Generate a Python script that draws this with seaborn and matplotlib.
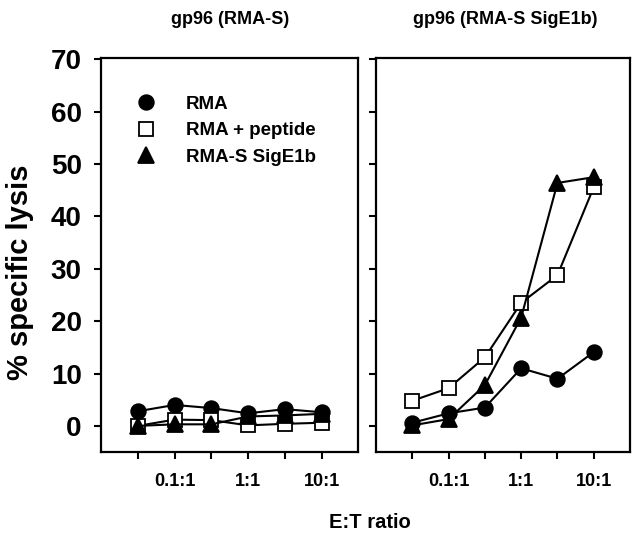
import seaborn as sns
import matplotlib.pyplot as plt
import pandas as pd
from matplotlib.lines import Line2D

sns.set_style("ticks")
plt.rcParams['font.family'] = ['Liberation Sans', 'DejaVu Sans']
plt.rcParams['font.weight'] = 'bold'
plt.rcParams['text.color'] = 'black'
plt.rcParams['axes.labelcolor'] = 'black'
plt.rcParams['xtick.color'] = 'black'
plt.rcParams['ytick.color'] = 'black'

# E:T ratio steps (equally spaced on the axis), only every other one labelled
ratio_pos = [1, 2, 3, 4, 5, 6]
ratio_ticklabels = ["", "0.1:1", "", "1:1", "", "10:1"]

series_names = ["RMA", "RMA + peptide", "RMA-S SigE1b"]
panel_titles = ["gp96 (RMA-S)", "gp96 (RMA-S SigE1b)"]

# left panel: gp96 (RMA-S)
left_rma = [2.8, 4.0, 3.4, 2.4, 3.2, 2.6]
left_peptide = [0.0, 1.2, 1.1, 0.1, 0.4, 0.6]
left_sige1b = [0.0, 0.3, 0.3, 1.8, 2.0, 2.3]

# right panel: gp96 (RMA-S SigE1b)
right_rma = [0.6, 2.4, 3.5, 11.0, 9.0, 14.1]
right_peptide = [4.8, 7.2, 13.1, 23.5, 28.8, 45.6]
right_sige1b = [0.1, 1.3, 7.8, 20.7, 46.4, 47.5]

rows = []
for panel, vals in [(panel_titles[0], [left_rma, left_peptide, left_sige1b]),
                    (panel_titles[1], [right_rma, right_peptide, right_sige1b])]:
    for name, ys in zip(series_names, vals):
        for x, y in zip(ratio_pos, ys):
            rows.append({"panel": panel, "target": name, "pos": x, "lysis": y})
df = pd.DataFrame(rows)

styles = {
    "RMA": dict(marker="o", markersize=10.5, markerfacecolor="black"),
    "RMA + peptide": dict(marker="s", markersize=9.5, markerfacecolor="white"),
    "RMA-S SigE1b": dict(marker="^", markersize=11, markerfacecolor="black"),
}

fig = plt.figure(figsize=(6.4, 5.35), dpi=100)
ax1 = fig.add_axes([0.158, 0.155, 0.402, 0.736])
ax2 = fig.add_axes([0.5875, 0.155, 0.397, 0.736])

for ax, title in zip([ax1, ax2], panel_titles):
    sub = df[df["panel"] == title]
    for name in series_names:
        sns.lineplot(data=sub[sub["target"] == name], x="pos", y="lysis", ax=ax,
                     color="black", linewidth=1.5, markeredgecolor="black",
                     markeredgewidth=1.3, legend=False, **styles[name])
    ax.set_xlim(0, 7)
    ax.set_ylim(-5, 70.2)
    ax.set_yticks(range(0, 71, 10))
    ax.set_xticks(ratio_pos)
    ax.set_xticklabels(ratio_ticklabels)
    ax.set_xlabel("")
    ax.set_ylabel("")
    for sp in ax.spines.values():
        sp.set_visible(True)
        sp.set_linewidth(1.6)
        sp.set_color("black")
    ax.tick_params(axis="both", direction="out", length=5, width=1.5, color="black")
    ax.tick_params(axis="x", labelsize=13, pad=10)
    ax.tick_params(axis="y", labelsize=20, pad=9)

ax2.tick_params(axis="y", labelleft=False)

handles = [Line2D([], [], color="black", linestyle="none", markeredgecolor="black",
                  markeredgewidth=1.3, **styles[n]) for n in series_names]
ax1.legend(handles, series_names, loc="upper left", bbox_to_anchor=(0.139, 0.905),
           frameon=False, fontsize=13.5, handlelength=1, handletextpad=1.6,
           labelspacing=0.5, borderpad=0, borderaxespad=0)

fig.text(0.359, 0.963, panel_titles[0], ha="center", va="center", fontsize=13, weight="bold")
fig.text(0.789, 0.963, panel_titles[1], ha="center", va="center", fontsize=13, weight="bold")
fig.text(0.031, 0.491, "% specific lysis", rotation=90, ha="center", va="center",
         fontsize=21, weight="bold")
fig.text(0.578, 0.024, "E:T ratio", ha="center", va="center", fontsize=14.5, weight="bold")

fig.savefig("out.png", dpi=100)
